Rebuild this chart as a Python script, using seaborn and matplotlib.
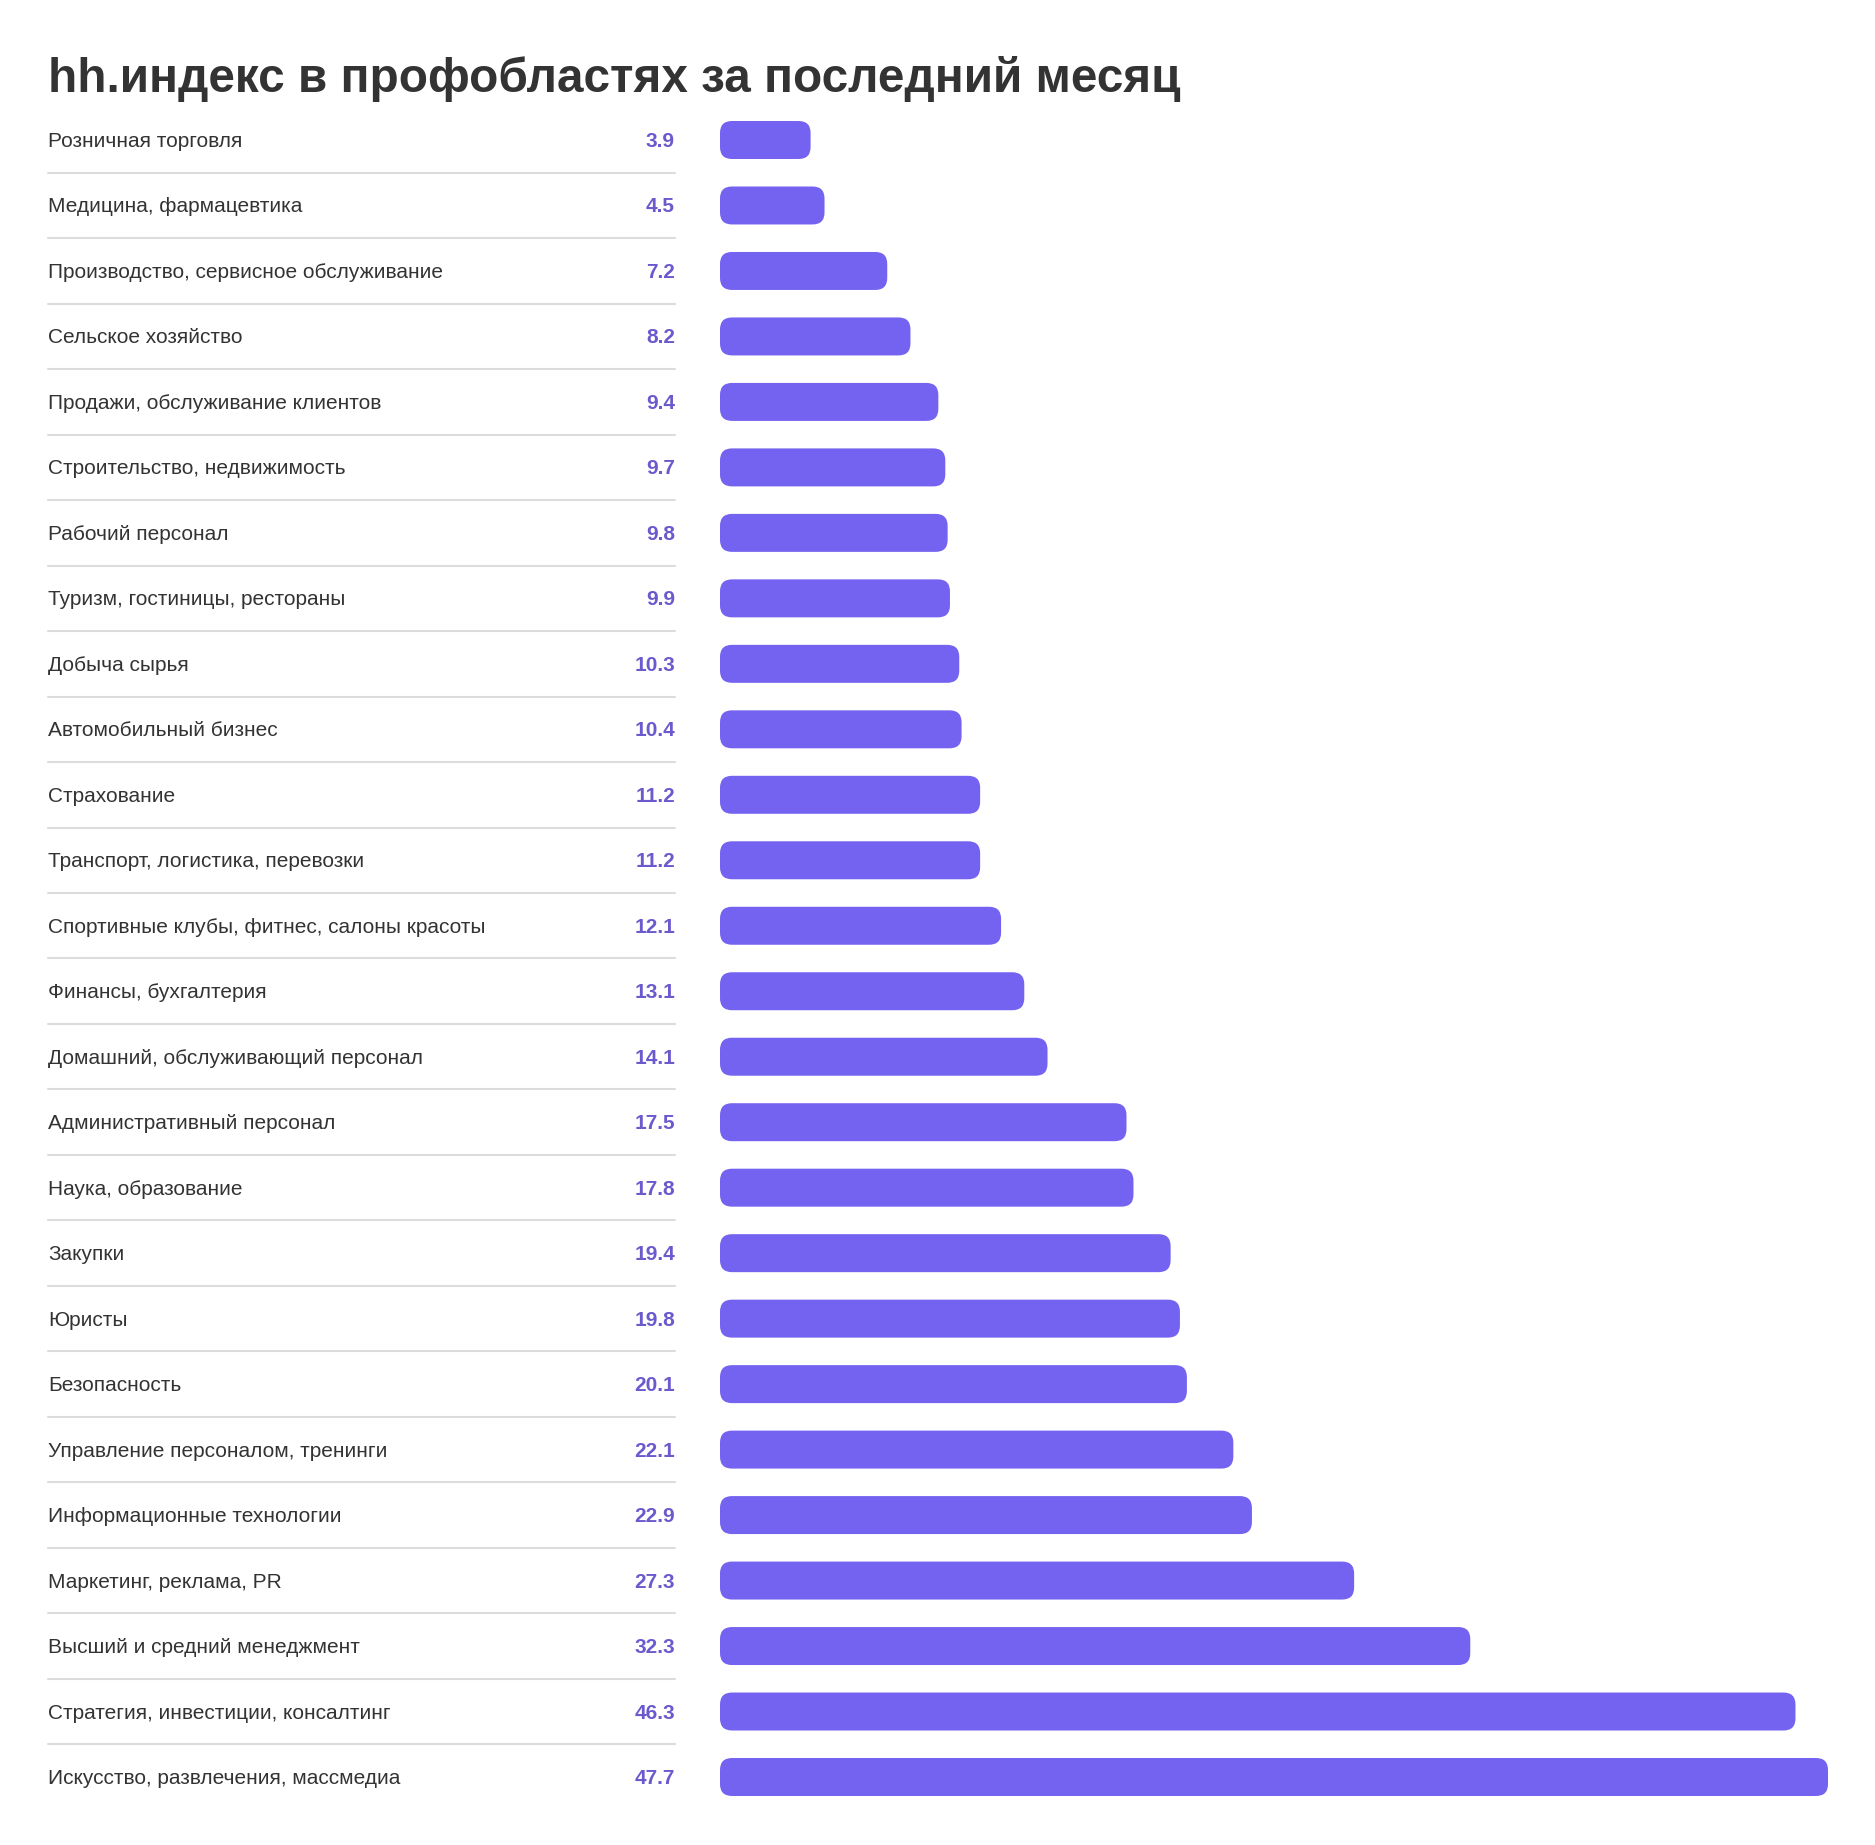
import matplotlib
matplotlib.use("Agg")
import matplotlib.pyplot as plt
import matplotlib.transforms as mtransforms
from matplotlib.patches import FancyBboxPatch
import seaborn as sns

# data
categories = [
    "Розничная торговля", "Медицина, фармацевтика",
    "Производство, сервисное обслуживание", "Сельское хозяйство",
    "Продажи, обслуживание клиентов", "Строительство, недвижимость",
    "Рабочий персонал", "Туризм, гостиницы, рестораны", "Добыча сырья",
    "Автомобильный бизнес", "Страхование", "Транспорт, логистика, перевозки",
    "Спортивные клубы, фитнес, салоны красоты", "Финансы, бухгалтерия",
    "Домашний, обслуживающий персонал", "Административный персонал",
    "Наука, образование", "Закупки", "Юристы", "Безопасность",
    "Управление персоналом, тренинги", "Информационные технологии",
    "Маркетинг, реклама, PR", "Высший и средний менеджмент",
    "Стратегия, инвестиции, консалтинг", "Искусство, развлечения, массмедиа",
]
values = [3.9, 4.5, 7.2, 8.2, 9.4, 9.7, 9.8, 9.9, 10.3, 10.4, 11.2, 11.2,
          12.1, 13.1, 14.1, 17.5, 17.8, 19.4, 19.8, 20.1, 22.1, 22.9, 27.3,
          32.3, 46.3, 47.7]
title = "hh.индекс в профобластях за последний месяц"

sns.set_theme(style="white")
plt.rcParams["font.family"] = ["Liberation Sans", "DejaVu Sans"]

W, H = 1875, 1845
fig = plt.figure(figsize=(W / 100, H / 100), dpi=100)
fig.patch.set_facecolor("white")

n = len(categories)
row_px = (1777 - 140) / (n - 1)
top_px = 140 - row_px / 2
bar_left, bar_right = 720, 1828
ax = fig.add_axes([bar_left / W, 1 - (top_px + n * row_px) / H,
                   (bar_right - bar_left) / W, n * row_px / H])

bar_color = "#7462F0"
sns.barplot(x=values, y=categories, orient="h", ax=ax, color=bar_color,
            width=0.58, saturation=1)
ax.set_xlim(0, max(values))
ax.set_ylim(n - 0.5, -0.5)
ax.axis("off")

# rounded bars
px_x = (bar_right - bar_left) / max(values)
aspect = px_x / row_px
r = 12 / px_x
for p in list(ax.patches):
    x, y, w, h = p.get_x(), p.get_y(), p.get_width(), p.get_height()
    p.remove()
    ax.add_patch(FancyBboxPatch((x, y), w, h,
                                boxstyle=f"round,pad=0,rounding_size={r}",
                                mutation_aspect=aspect, facecolor=bar_color,
                                edgecolor="none", clip_on=False))

trans = mtransforms.blended_transform_factory(fig.transFigure, ax.transData)
off = 7 / row_px
for i, (cat, val) in enumerate(zip(categories, values)):
    ax.text(48 / W, i + off, cat, transform=trans, ha="left", va="baseline",
            fontsize=15, color="#333333", clip_on=False)
    ax.text(675 / W, i + off, f"{val:.1f}", transform=trans, ha="right",
            va="baseline", fontsize=15, fontweight="bold", color="#6A5ACD",
            clip_on=False)
    if i < n - 1:
        ax.plot([48 / W, 675 / W], [i + 0.5, i + 0.5], transform=trans,
                color="#dcdcdc", lw=1.5, clip_on=False)

fig.text(48 / W, 1 - 92 / H, title, ha="left", va="baseline", fontsize=34.4,
         fontweight="bold", color="#333333")

fig.savefig("out.png", dpi=100, facecolor="white")
